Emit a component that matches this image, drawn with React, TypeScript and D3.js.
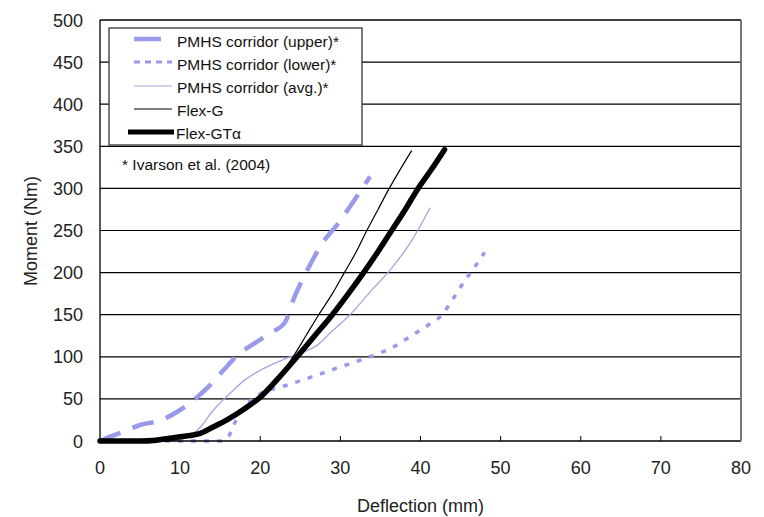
import * as d3 from 'd3';
import React from 'react';

type Pt = [number, number];

// deflection (mm), moment (Nm)
const upperCorridor: Pt[] = [
  [0, 0], [1.2, 5], [2.9, 11], [5, 19], [7.7, 25], [9.7, 35], [12, 51], [13.7, 66],
  [15.4, 84], [17.2, 102], [19.6, 118], [21.2, 128], [23.1, 141], [24.1, 167],
  [26.2, 209], [27.9, 237], [29.7, 258], [31.6, 284], [33.7, 314],
];
const lowerCorridor: Pt[] = [
  [0, 0], [8, 0], [15, 0], [16, 5], [17, 25], [18.5, 45], [20, 56], [22.9, 65], [27, 78],
  [30, 88], [32.5, 96], [34.5, 103], [36.5, 111], [38.7, 124], [41, 138], [42.5, 148],
  [44, 168], [45.5, 190], [47, 210], [48, 224],
];
const avgCorridor: Pt[] = [
  [0, 0], [9, 0], [11, 5], [12.5, 16], [14, 35], [16.6, 60], [18, 72], [20, 84],
  [22, 93], [23.7, 100], [25.5, 106], [27, 113], [28.7, 128], [31.2, 150], [34, 180],
  [36.2, 203], [38.7, 235], [41.2, 277],
];
const flexG: Pt[] = [
  [0, 0], [5, 0], [7, 1], [8.5, 3], [10, 5], [12.5, 9], [14, 16], [16, 26],
  [18, 38], [20, 52], [22.2, 75], [24.1, 100], [25.7, 125], [27.3, 150], [29, 175],
  [30.5, 200], [32, 225], [33.3, 250], [34.7, 275], [36.1, 300], [37.5, 323], [38.9, 345],
];
const flexGTa: Pt[] = [
  [0, 0], [5, 0], [7, 1], [8.5, 3], [10, 5], [12.5, 9], [14, 16], [16, 26],
  [18, 38], [20, 52], [22.3, 75], [24.6, 100], [26.8, 125], [29, 150], [31, 175],
  [32.9, 200], [34.7, 225], [36.4, 250], [38.1, 275], [39.7, 300], [41.4, 323], [43, 346],
];

const xTicks = [0, 10, 20, 30, 40, 50, 60, 70, 80];
const yTicks = [0, 50, 100, 150, 200, 250, 300, 350, 400, 450, 500];
const legendLabels = [
  'PMHS corridor (upper)*',
  'PMHS corridor (lower)*',
  'PMHS corridor (avg.)*',
  'Flex-G',
  'Flex-GT\u03b1',
];

const font = 'Liberation Sans, Arial, sans-serif';

const App: React.FC = () => {
  const left = 100, right = 741, top = 20, bottom = 441;

  const x = d3.scaleLinear().domain([0, 80]).range([left, right]);
  const y = d3.scaleLinear().domain([0, 500]).range([bottom, top]);

  const line = d3.line<Pt>()
    .x(d => x(d[0]))
    .y(d => y(d[1]))
    .curve(d3.curveMonotoneX);

  const lav = '#9a9aec';

  return (
    <svg width={764} height={517} style={{ position: 'absolute', left: 0, top: 0 }}>
      <rect width={764} height={517} fill="#fff" />
      {yTicks.filter(t => t > 0 && t < 500).map(t => (
        <line key={t} x1={left} x2={right} y1={y(t)} y2={y(t)} stroke="#000" strokeWidth={1.2} />
      ))}
      {xTicks.filter(t => t > 0 && t < 80).map(t => (
        <line key={t} x1={x(t)} x2={x(t)} y1={bottom} y2={bottom - 5} stroke="#000" strokeWidth={1} />
      ))}

      {/* legend box */}
      <rect x={109} y={28} width={253} height={117} fill="#fff" stroke="#333" strokeWidth={1.3} />
      <line x1={134} x2={161} y1={39} y2={39} stroke={lav} strokeWidth={4.5} />
      <line x1={134} x2={172} y1={62} y2={62} stroke={lav} strokeWidth={3} strokeDasharray="6 5" />
      <line x1={134} x2={172} y1={86} y2={86} stroke="#a6a6dc" strokeWidth={1.2} />
      <line x1={134} x2={172} y1={109} y2={109} stroke="#000" strokeWidth={1.2} />
      <line x1={128} x2={174} y1={132} y2={132} stroke="#000" strokeWidth={5} />
      {legendLabels.map((l, i) => (
        <text key={l} x={i === 4 ? 176 : 177} y={47 + i * 23} fontFamily={font} fontSize={15.5} fill="#111">{l}</text>
      ))}
      <text x={122} y={170} fontFamily={font} fontSize={15.5} fill="#111">* Ivarson et al. (2004)</text>

      {/* series */}
      <path d={line(avgCorridor) ?? ''} fill="none" stroke="#a6a6dc" strokeWidth={1.3} />
      <path d={line(lowerCorridor) ?? ''} fill="none" stroke={lav} strokeWidth={3.5} strokeDasharray="5 8" />
      <path d={line(upperCorridor) ?? ''} fill="none" stroke={lav} strokeWidth={4.5} strokeDasharray="22 13" />
      <path d={line(flexG) ?? ''} fill="none" stroke="#000" strokeWidth={1.2} />
      <path d={line(flexGTa) ?? ''} fill="none" stroke="#000" strokeWidth={5.5} strokeLinecap="round" />

      {/* frame */}
      <line x1={left} x2={right} y1={top} y2={top} stroke="#000" strokeWidth={1.3} />
      <line x1={left} x2={left} y1={top} y2={bottom} stroke="#000" strokeWidth={1.3} />
      <line x1={left} x2={right} y1={bottom} y2={bottom} stroke="#000" strokeWidth={1.6} />
      <line x1={right} x2={right} y1={top} y2={bottom} stroke="#777" strokeWidth={2} />

      {yTicks.map(t => (
        <text key={t} x={83} y={y(t) + 6.5} textAnchor="end" fontFamily={font} fontSize={18} fill="#222">{t}</text>
      ))}
      {xTicks.map(t => (
        <text key={t} x={x(t)} y={474} textAnchor="middle" fontFamily={font} fontSize={18} fill="#222">{t}</text>
      ))}
      <text x={x(40)} y={512} textAnchor="middle" fontFamily={font} fontSize={18} fill="#222">Deflection (mm)</text>
      <text transform={`translate(37,231) rotate(-90)`} textAnchor="middle" fontFamily={font} fontSize={18} fill="#222">Moment (Nm)</text>
    </svg>
  );
};

export default App;
